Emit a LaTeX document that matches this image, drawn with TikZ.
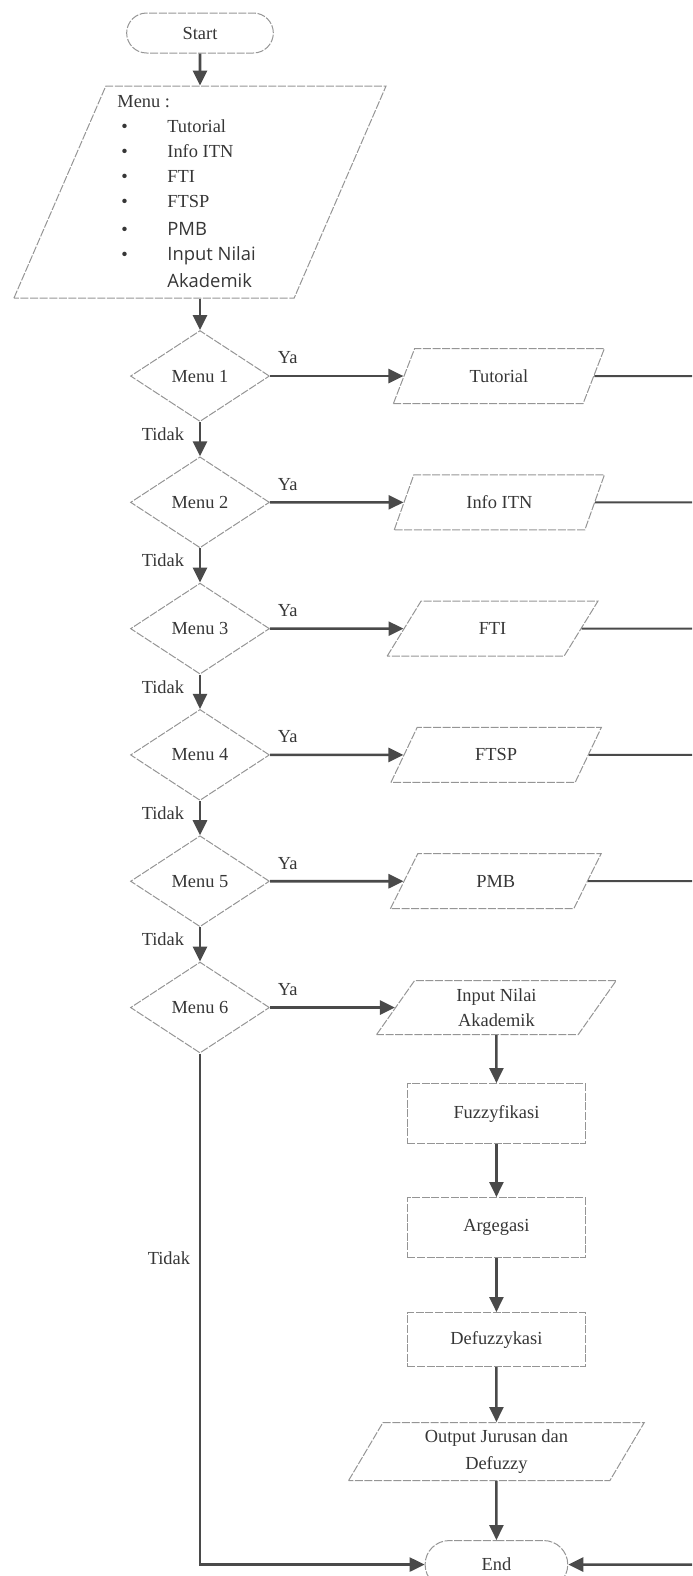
\documentclass[tikz,border=0pt]{standalone}
\usepackage{fontspec}
\setmainfont{Liberation Serif}
\newfontfamily\menusans{Open Sans}
\usetikzlibrary{shapes.geometric, shapes.misc, arrows.meta, positioning}
\definecolor{ink}{HTML}{363636}
\definecolor{wire}{HTML}{4A4A4A}
\definecolor{frame}{HTML}{959595}
\newcommand{\listdot}{\makebox[25pt][l]{\hspace*{2pt}\textbullet}}

\begin{document}
\begin{tikzpicture}[
  font=\fontsize{9.2pt}{12.5pt}\selectfont, text=ink,
  outline/.style={draw=frame, line width=0.5pt, dash pattern=on 4pt off 0.8pt},
  terminal/.style={rounded rectangle, outline, minimum width=80pt, minimum height=20pt},
  io/.style={trapezium, trapezium left angle=65, trapezium right angle=115, trapezium stretches=true, outline, inner sep=1pt, minimum width=105.5pt, minimum height=27.5pt},
  decision/.style={diamond, outline, minimum width=69.5pt, minimum height=45.5pt, inner sep=0pt},
  process/.style={rectangle, outline, minimum width=89pt, minimum height=30pt},
  arrow/.style={-{Triangle[length=7.5pt, width=7pt]}, line width=1.3pt, draw=wire},
  link/.style={line width=1pt, draw=wire},
  ya/.style={pos=0, anchor=south west, yshift=2pt},
  tidak/.style={midway, anchor=east, xshift=-4pt, yshift=2.5pt}
]
\useasboundingbox (-100pt,16.5pt) rectangle (246pt,-771.5pt);

% main menu
\node[terminal] (start) {Start};
\node[io, minimum width=186pt, minimum height=106pt, trapezium left angle=64, trapezium right angle=116, below=16pt of start] (menu) {};
\node[anchor=north west, inner sep=0pt, align=left] (menulist) at ([xshift=-41.5pt, yshift=-5pt]menu.north) {Menu :\\
\listdot Tutorial\\
\listdot Info ITN\\
\listdot FTI\\
\listdot FTSP\\[1.5pt]
\listdot{\menusans PMB}\\
\listdot{\menusans Input Nilai}\\[1pt]
\hspace*{25pt}{\menusans Akademik}};

% decisions
\node[decision, below=15.75pt of menu] (d1) {Menu 1};
\node[decision, below=17.15pt of d1] (d2) {Menu 2};
\node[decision, below=17.15pt of d2] (d3) {Menu 3};
\node[decision, below=17.15pt of d3] (d4) {Menu 4};
\node[decision, below=17.15pt of d4] (d5) {Menu 5};
\node[decision, below=17.15pt of d5] (d6) {Menu 6};

% outputs
\node[io, right=66.75pt of d1] (tutorial) {Tutorial};
\node[io, right=66.75pt of d2] (info) {Info ITN};
\node[io, right=66.75pt of d3] (fti) {FTI};
\node[io, right=66.75pt of d4] (ftsp) {FTSP};
\node[io, right=66.75pt of d5] (pmb) {PMB};
\node[io, minimum width=120pt, minimum height=27pt, align=center, right=62.5pt of d6] (input) {Input Nilai\\Akademik};

% fuzzy steps
\node[process, below=24pt of input] (fuzzy) {Fuzzyfikasi};
\node[process, below=26.5pt of fuzzy] (argegasi) {Argegasi};
\node[process, minimum height=27pt, below=27pt of argegasi] (defuzzy) {Defuzzykasi};
\node[io, minimum width=148.5pt, minimum height=29pt, align=center, font=\fontsize{9.2pt}{13.5pt}\selectfont, below=27.5pt of defuzzy] (output) {Output Jurusan dan\\Defuzzy};
\node[terminal, minimum width=78pt, minimum height=24pt, below=29.5pt of output] (end) {End};

\coordinate (edge) at (246pt,0pt);

\draw[arrow] (start) -- (menu);
\draw[arrow] (menu) -- (d1);
\draw[arrow] (d1) -- node[tidak] {Tidak} (d2);
\draw[arrow] (d2) -- node[tidak] {Tidak} (d3);
\draw[arrow] (d3) -- node[tidak] {Tidak} (d4);
\draw[arrow] (d4) -- node[tidak] {Tidak} (d5);
\draw[arrow] (d5) -- node[tidak] {Tidak} (d6);
\draw[arrow] (d1) -- node[ya] {Ya} (tutorial);
\draw[arrow] (d2) -- node[ya] {Ya} (info);
\draw[arrow] (d3) -- node[ya] {Ya} (fti);
\draw[arrow] (d4) -- node[ya] {Ya} (ftsp);
\draw[arrow] (d5) -- node[ya] {Ya} (pmb);
\draw[arrow] (d6) -- node[ya] {Ya} (input);
\draw[link] (tutorial) -- (tutorial -| edge);
\draw[link] (info) -- (info -| edge);
\draw[link] (fti) -- (fti -| edge);
\draw[link] (ftsp) -- (ftsp -| edge);
\draw[link] (pmb) -- (pmb -| edge);
\draw[arrow] (input) -- (fuzzy);
\draw[arrow] (fuzzy) -- (argegasi);
\draw[arrow] (argegasi) -- (defuzzy);
\draw[arrow] (defuzzy) -- (output);
\draw[arrow] (output) -- (end);
\draw[arrow] (d6) |- node[pos=0.2, anchor=east, xshift=-1pt] {Tidak} (end);
\draw[arrow] (end -| edge) -- (end);
\end{tikzpicture}
\end{document}
